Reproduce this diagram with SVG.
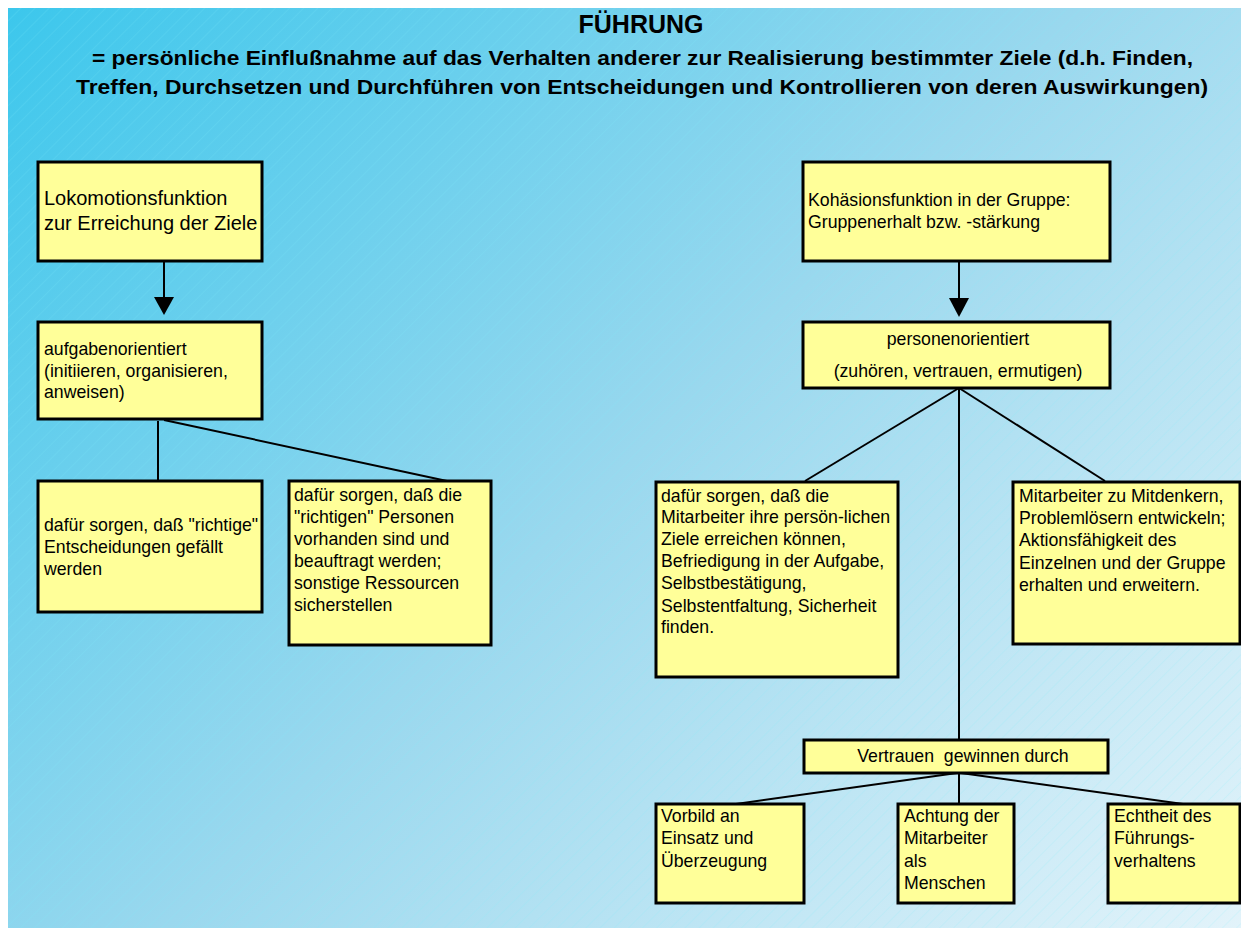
<svg xmlns="http://www.w3.org/2000/svg" width="1241" height="928" viewBox="0 0 1241 928">
<defs>
<linearGradient id="bg" gradientUnits="userSpaceOnUse" x1="8" y1="8" x2="1084" y2="1084">
<stop offset="0" stop-color="#3cc7ec"/>
<stop offset="0.5" stop-color="#9ad8ee"/>
<stop offset="1" stop-color="#e2f3fa"/>
</linearGradient>
<pattern id="hatch" width="10" height="10" patternUnits="userSpaceOnUse" patternTransform="rotate(45)">
<line x1="0" y1="0" x2="0" y2="10" stroke="#7ee9f7" stroke-width="0.7" stroke-opacity="0.45"/>
</pattern>
</defs>
<style>
.box{fill:#ffff99;stroke:#000;stroke-width:3}
.t{font-family:"Liberation Sans",Arial,sans-serif;font-size:17.7px;fill:#000}
.big{font-size:20px}
.h{font-family:"Liberation Sans",Arial,sans-serif;font-weight:bold;fill:#000}
.c{text-anchor:middle}
.ln{stroke:#000;stroke-width:2;fill:none}
</style>
<rect x="0" y="0" width="1241" height="928" fill="#fff"/>
<rect x="8" y="8" width="1233" height="920" fill="url(#bg)"/>
<rect x="8" y="8" width="1233" height="920" fill="url(#hatch)"/>

<g id="title">
<text class="h c" x="641" y="33" font-size="25">FÜHRUNG</text>
<text class="h" x="92" y="65" font-size="20.5" textLength="1101" lengthAdjust="spacingAndGlyphs">= persönliche Einflußnahme auf das Verhalten anderer zur Realisierung bestimmter Ziele (d.h. Finden,</text>
<text class="h" x="76" y="94" font-size="20.5" textLength="1132" lengthAdjust="spacingAndGlyphs">Treffen, Durchsetzen und Durchführen von Entscheidungen und Kontrollieren von deren Auswirkungen)</text>
</g>

<g id="connectors">
<line class="ln" x1="164" y1="262" x2="164" y2="298"/>
<polygon points="154,297 174,297 164,315" fill="#000"/>
<line class="ln" x1="959" y1="262" x2="959" y2="299"/>
<polygon points="949,298 969,298 959,317" fill="#000"/>
<line class="ln" x1="158" y1="421" x2="158" y2="481"/>
<line class="ln" x1="164" y1="420" x2="447" y2="481"/>
<line class="ln" x1="959" y1="388" x2="805" y2="481"/>
<line class="ln" x1="959" y1="388" x2="959" y2="740"/>
<line class="ln" x1="959" y1="388" x2="1105" y2="481"/>
<line class="ln" x1="957" y1="773" x2="736" y2="804"/>
<line class="ln" x1="959" y1="773" x2="959" y2="804"/>
<line class="ln" x1="961" y1="773" x2="1183" y2="804"/>
</g>

<g id="lokomotion">
<rect class="box" x="38" y="162" width="224" height="99"/>
<text class="t big" x="44" y="205">Lokomotionsfunktion</text>
<text class="t big" x="44" y="230">zur Erreichung der Ziele</text>
</g>

<g id="aufgaben">
<rect class="box" x="38" y="322" width="224" height="97"/>
<text class="t" x="44" y="355">aufgabenorientiert</text>
<text class="t" x="44" y="377">(initiieren, organisieren,</text>
<text class="t" x="44" y="398">anweisen)</text>
</g>

<g id="richtige">
<rect class="box" x="38" y="481" width="224" height="131"/>
<text class="t" x="44" y="531">dafür sorgen, daß "richtige"</text>
<text class="t" x="44" y="553">Entscheidungen gefällt</text>
<text class="t" x="44" y="575">werden</text>
</g>

<g id="personen-ressourcen">
<rect class="box" x="289" y="481" width="202" height="164"/>
<text class="t" x="294" y="501">dafür sorgen, daß die</text>
<text class="t" x="294" y="523">"richtigen" Personen</text>
<text class="t" x="294" y="545">vorhanden sind und</text>
<text class="t" x="294" y="567">beauftragt werden;</text>
<text class="t" x="294" y="589">sonstige Ressourcen</text>
<text class="t" x="294" y="611">sicherstellen</text>
</g>

<g id="kohaesion">
<rect class="box" x="803" y="162" width="307" height="99"/>
<text class="t" x="808" y="206">Kohäsionsfunktion in der Gruppe:</text>
<text class="t" x="808" y="228">Gruppenerhalt bzw. -stärkung</text>
</g>

<g id="personenorientiert">
<rect class="box" x="803" y="322" width="307" height="66"/>
<text class="t c" x="958" y="345">personenorientiert</text>
<text class="t c" x="958" y="377">(zuhören, vertrauen, ermutigen)</text>
</g>

<g id="ziele">
<rect class="box" x="656" y="482" width="242" height="195"/>
<text class="t" x="661" y="502">dafür sorgen, daß die</text>
<text class="t" x="661" y="523">Mitarbeiter ihre persön-lichen</text>
<text class="t" x="661" y="545">Ziele erreichen können,</text>
<text class="t" x="661" y="567">Befriedigung in der Aufgabe,</text>
<text class="t" x="661" y="589">Selbstbestätigung,</text>
<text class="t" x="661" y="612">Selbstentfaltung, Sicherheit</text>
<text class="t" x="661" y="633">finden.</text>
</g>

<g id="mitdenker">
<rect class="box" x="1013" y="482" width="227" height="162"/>
<text class="t" x="1019" y="502">Mitarbeiter zu Mitdenkern,</text>
<text class="t" x="1019" y="524">Problemlösern entwickeln;</text>
<text class="t" x="1019" y="546">Aktionsfähigkeit des</text>
<text class="t" x="1019" y="569">Einzelnen und der Gruppe</text>
<text class="t" x="1019" y="591">erhalten und erweitern.</text>
</g>

<g id="vertrauen">
<rect class="box" x="804" y="740" width="304" height="33"/>
<text class="t c" x="963" y="762" xml:space="preserve">Vertrauen  gewinnen durch</text>
</g>

<g id="vorbild">
<rect class="box" x="656" y="804" width="148" height="99"/>
<text class="t" x="661" y="822">Vorbild an</text>
<text class="t" x="661" y="844">Einsatz und</text>
<text class="t" x="661" y="867">Überzeugung</text>
</g>

<g id="achtung">
<rect class="box" x="898" y="804" width="116" height="99"/>
<text class="t" x="904" y="822">Achtung der</text>
<text class="t" x="904" y="844">Mitarbeiter</text>
<text class="t" x="904" y="867">als</text>
<text class="t" x="904" y="889">Menschen</text>
</g>

<g id="echtheit">
<rect class="box" x="1108" y="804" width="132" height="99"/>
<text class="t" x="1114" y="822">Echtheit des</text>
<text class="t" x="1114" y="844">Führungs-</text>
<text class="t" x="1114" y="867">verhaltens</text>
</g>
</svg>
